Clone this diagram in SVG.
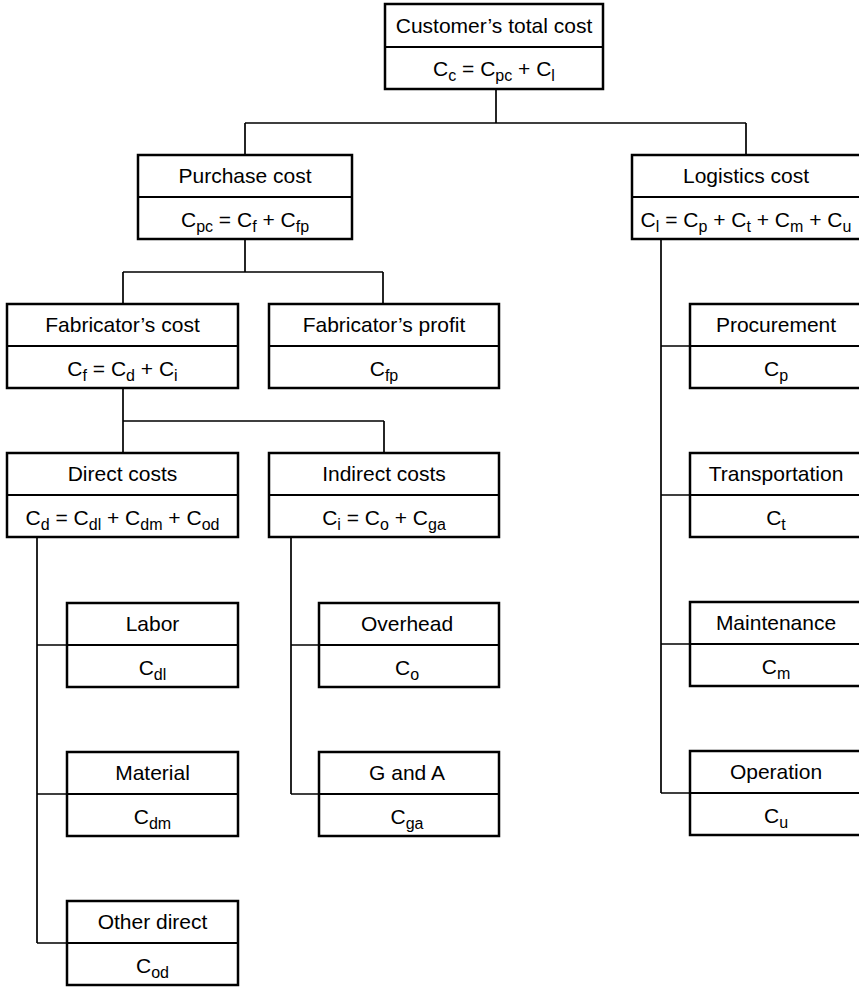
<svg xmlns="http://www.w3.org/2000/svg" width="859" height="987" viewBox="0 0 859 987">
<style>
.b{fill:#fff;stroke:#000;stroke-width:2.5}
.d{stroke:#000;stroke-width:2}
.c{fill:none;stroke:#000;stroke-width:1.7}
text{font-family:"Liberation Sans",Arial,sans-serif;font-size:21px;fill:#000;text-anchor:middle}
.s{font-size:16px}
</style>
<rect width="859" height="987" fill="#fff"/>
<g id="connectors">
<path class="c" d="M496 89V123M245 123H746M245 123V155M746 123V155"/>
<path class="c" d="M245 239V272M123 272H383M123 272V304M383 272V304"/>
<path class="c" d="M123 388V421M123 421H384M123 421V453M384 421V453"/>
<path class="c" d="M37 537V943M37 645H67M37 794H67M37 943H67"/>
<path class="c" d="M291 537V794M291 645H319M291 794H319"/>
<path class="c" d="M661 239V793M661 346H690M661 495H690M661 644H690M661 793H690"/>
</g>
<g id="customer">
<rect class="b" x="385" y="4" width="218" height="85"/><line class="d" x1="385" y1="47" x2="603" y2="47"/>
<text x="494" y="33">Customer&#8217;s total cost</text>
<text x="494" y="76">C<tspan class="s" dy="5">c</tspan><tspan dy="-5"> = C</tspan><tspan class="s" dy="5">pc</tspan><tspan dy="-5"> + C</tspan><tspan class="s" dy="5">l</tspan></text>
</g>
<g id="purchase">
<rect class="b" x="138" y="155" width="214" height="84"/><line class="d" x1="138" y1="197" x2="352" y2="197"/>
<text x="245" y="183">Purchase cost</text>
<text x="245" y="227">C<tspan class="s" dy="5">pc</tspan><tspan dy="-5"> = C</tspan><tspan class="s" dy="5">f</tspan><tspan dy="-5"> + C</tspan><tspan class="s" dy="5">fp</tspan></text>
</g>
<g id="logistics">
<rect class="b" x="632" y="155" width="230" height="84"/><line class="d" x1="632" y1="197" x2="862" y2="197"/>
<text x="746" y="183">Logistics cost</text>
<text x="746" y="227">C<tspan class="s" dy="5">l</tspan><tspan dy="-5"> = C</tspan><tspan class="s" dy="5">p</tspan><tspan dy="-5"> + C</tspan><tspan class="s" dy="5">t</tspan><tspan dy="-5"> + C</tspan><tspan class="s" dy="5">m</tspan><tspan dy="-5"> + C</tspan><tspan class="s" dy="5">u</tspan></text>
</g>
<g id="fabcost">
<rect class="b" x="7" y="304" width="231" height="84"/><line class="d" x1="7" y1="346" x2="238" y2="346"/>
<text x="122.5" y="332">Fabricator&#8217;s cost</text>
<text x="122.5" y="376">C<tspan class="s" dy="5">f</tspan><tspan dy="-5"> = C</tspan><tspan class="s" dy="5">d</tspan><tspan dy="-5"> + C</tspan><tspan class="s" dy="5">i</tspan></text>
</g>
<g id="fabprofit">
<rect class="b" x="269" y="304" width="230" height="84"/><line class="d" x1="269" y1="346" x2="499" y2="346"/>
<text x="384" y="332">Fabricator&#8217;s profit</text>
<text x="384" y="376">C<tspan class="s" dy="5">fp</tspan></text>
</g>
<g id="direct">
<rect class="b" x="7" y="453" width="231" height="84"/><line class="d" x1="7" y1="495" x2="238" y2="495"/>
<text x="122.5" y="481">Direct costs</text>
<text x="122.5" y="525">C<tspan class="s" dy="5">d</tspan><tspan dy="-5"> = C</tspan><tspan class="s" dy="5">dl</tspan><tspan dy="-5"> + C</tspan><tspan class="s" dy="5">dm</tspan><tspan dy="-5"> + C</tspan><tspan class="s" dy="5">od</tspan></text>
</g>
<g id="indirect">
<rect class="b" x="269" y="453" width="230" height="84"/><line class="d" x1="269" y1="495" x2="499" y2="495"/>
<text x="384" y="481">Indirect costs</text>
<text x="384" y="525">C<tspan class="s" dy="5">i</tspan><tspan dy="-5"> = C</tspan><tspan class="s" dy="5">o</tspan><tspan dy="-5"> + C</tspan><tspan class="s" dy="5">ga</tspan></text>
</g>
<g id="labor">
<rect class="b" x="67" y="603" width="171" height="84"/><line class="d" x1="67" y1="645" x2="238" y2="645"/>
<text x="152.5" y="631">Labor</text>
<text x="152.5" y="675">C<tspan class="s" dy="5">dl</tspan></text>
</g>
<g id="material">
<rect class="b" x="67" y="752" width="171" height="84"/><line class="d" x1="67" y1="794" x2="238" y2="794"/>
<text x="152.5" y="780">Material</text>
<text x="152.5" y="824">C<tspan class="s" dy="5">dm</tspan></text>
</g>
<g id="otherdirect">
<rect class="b" x="67" y="901" width="171" height="84"/><line class="d" x1="67" y1="943" x2="238" y2="943"/>
<text x="152.5" y="929">Other direct</text>
<text x="152.5" y="973">C<tspan class="s" dy="5">od</tspan></text>
</g>
<g id="overhead">
<rect class="b" x="319" y="603" width="180" height="84"/><line class="d" x1="319" y1="645" x2="499" y2="645"/>
<text x="407" y="631">Overhead</text>
<text x="407" y="675">C<tspan class="s" dy="5">o</tspan></text>
</g>
<g id="ganda">
<rect class="b" x="319" y="752" width="180" height="84"/><line class="d" x1="319" y1="794" x2="499" y2="794"/>
<text x="407" y="780">G and A</text>
<text x="407" y="824">C<tspan class="s" dy="5">ga</tspan></text>
</g>
<g id="procurement">
<rect class="b" x="690" y="304" width="172" height="84"/><line class="d" x1="690" y1="346" x2="862" y2="346"/>
<text x="776" y="332">Procurement</text>
<text x="776" y="376">C<tspan class="s" dy="5">p</tspan></text>
</g>
<g id="transportation">
<rect class="b" x="690" y="453" width="172" height="84"/><line class="d" x1="690" y1="495" x2="862" y2="495"/>
<text x="776" y="481">Transportation</text>
<text x="776" y="525">C<tspan class="s" dy="5">t</tspan></text>
</g>
<g id="maintenance">
<rect class="b" x="690" y="602" width="172" height="84"/><line class="d" x1="690" y1="644" x2="862" y2="644"/>
<text x="776" y="630">Maintenance</text>
<text x="776" y="674">C<tspan class="s" dy="5">m</tspan></text>
</g>
<g id="operation">
<rect class="b" x="690" y="751" width="172" height="84"/><line class="d" x1="690" y1="793" x2="862" y2="793"/>
<text x="776" y="779">Operation</text>
<text x="776" y="823">C<tspan class="s" dy="5">u</tspan></text>
</g>
</svg>
